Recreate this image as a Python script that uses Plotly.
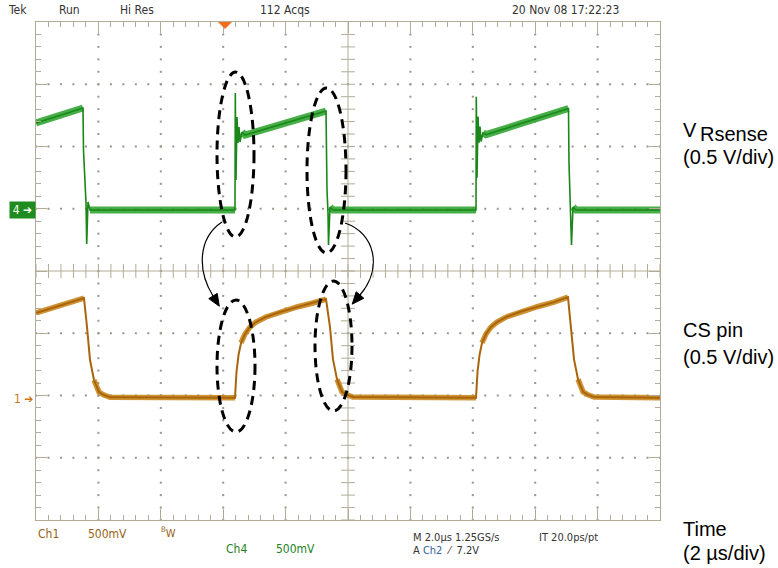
import numpy as np
import plotly.graph_objects as go

# ---------------- data ----------------
# Ch4 : V_Rsense in volts, 0.5 V/div, ground marker at +1 div ; time in microseconds (2 us/div)
rs_t = [0.000, 1.506, 1.522, 1.571, 1.603, 1.625, 1.667, 1.731, 6.378,
        6.388, 6.410, 6.442, 6.474, 6.506, 6.538, 6.603, 6.699, 9.295,
        9.311, 9.327, 9.359, 9.375, 9.423, 9.519, 14.103,
        14.112, 14.135, 14.167, 14.199, 14.231, 14.263, 14.327, 14.423, 17.067,
        17.083, 17.115, 17.147, 17.163, 17.212, 17.308, 20.000]
rs_v = [0.689, 0.809, 0.472, 0.127, 0.046, -0.283, 0.054, -0.010, -0.010,
        0.930, 0.231, 0.737, 0.528, 0.657, 0.536, 0.616, 0.592, 0.785,
        0.367, 0.151, -0.034, -0.291, 0.014, -0.010, -0.010,
        0.900, 0.250, 0.740, 0.530, 0.660, 0.540, 0.610, 0.595, 0.805,
        0.370, 0.150, -0.030, -0.290, 0.014, -0.010, -0.010]

# Ch1 : CS pin in volts, 0.5 V/div, ground marker at -2 div
cs_t = [0.000, 1.538, 1.635, 1.731, 1.859, 2.019, 2.179, 2.372, 6.378,
        6.426, 6.490, 6.571, 6.699, 6.859, 7.051, 7.372, 7.821, 8.365, 8.878, 9.295,
        9.423, 9.519, 9.647, 9.808, 9.968, 10.160, 14.103,
        14.151, 14.215, 14.295, 14.423, 14.583, 14.776, 15.096, 15.545, 16.090, 16.603, 17.051,
        17.147, 17.244, 17.372, 17.532, 17.692, 17.885, 20.000]
cs_v = [0.663, 0.783, 0.550, 0.285, 0.124, 0.028, 0.004, -0.015, -0.018,
        0.189, 0.325, 0.422, 0.494, 0.550, 0.590, 0.631, 0.671, 0.711, 0.743, 0.775,
        0.550, 0.290, 0.130, 0.030, 0.005, -0.012, -0.018,
        0.189, 0.325, 0.422, 0.494, 0.550, 0.590, 0.633, 0.675, 0.715, 0.750, 0.790,
        0.560, 0.290, 0.130, 0.030, 0.005, -0.012, -0.018]

volts_per_div = 0.5
rs_ground_div = 1.0
cs_ground_div = -2.0

# ---------------- helpers ----------------
W, H = 778, 568
L, R, T, B = 36, 660, 22, 520


def pxx(x):
    return (x - L) / (R - L)


def pxy(y):
    return (B - y) / (B - T)


def to_div(v, ground):
    return [ground + vi / volts_per_div for vi in v]


def band(t, y, thr=3.0):
    # keep only the slowly varying parts (for the noise band look)
    bx, by = [t[0]], [y[0]]
    for i in range(1, len(t)):
        dx = (t[i] - t[i - 1]) / 2.0
        dy = y[i] - y[i - 1]
        if dx <= 0 or abs(dy / dx) > thr:
            bx.append(None)
            by.append(None)
        bx.append(t[i])
        by.append(y[i])
    return bx, by


GRID = "rgb(178,172,150)"
DOT = "rgb(150,150,140)"
GREEN = "rgb(25,135,25)"
GREEN_B = "rgba(50,165,50,0.9)"
ORANGE = "rgb(170,100,10)"
ORANGE_B = "rgba(200,135,30,0.9)"
TXT = "#333333"
SCOPE_FONT = "Liberation Sans Narrow, Arial Narrow, DejaVu Sans Condensed, sans-serif"

fig = go.Figure()

# dotted graticule
dx_list, dy_list = [], []
for gx in np.arange(2, 20, 2):
    if abs(gx - 10) < 1e-6:
        continue
    for gy in np.arange(-4, 4.001, 0.2):
        dx_list.append(gx)
        dy_list.append(gy)
for gy in np.arange(-3, 3.001, 1):
    if abs(gy) < 1e-6:
        continue
    for gx in np.arange(0, 20.001, 0.4):
        dx_list.append(gx)
        dy_list.append(gy)
fig.add_trace(go.Scatter(x=dx_list, y=dy_list, mode="markers",
                         marker=dict(symbol="square", size=2, color=DOT),
                         hoverinfo="skip", showlegend=False))

# center crosshair ticks
fig.add_trace(go.Scatter(x=list(np.arange(0, 20.001, 0.4)), y=[0] * 51, mode="markers",
                         marker=dict(symbol="line-ns", size=10, line=dict(width=1, color=GRID)),
                         hoverinfo="skip", showlegend=False, cliponaxis=False))
fig.add_trace(go.Scatter(x=[10] * 41, y=list(np.arange(-4, 4.001, 0.2)), mode="markers",
                         marker=dict(symbol="line-ew", size=10, line=dict(width=1, color=GRID)),
                         hoverinfo="skip", showlegend=False, cliponaxis=False))

# traces
rs_y = to_div(rs_v, rs_ground_div)
cs_y = to_div(cs_v, cs_ground_div)

bx, by = band(cs_t, cs_y)
fig.add_trace(go.Scatter(x=bx, y=by, mode="lines", line=dict(color=ORANGE_B, width=5.5),
                         connectgaps=False, hoverinfo="skip", showlegend=False))
fig.add_trace(go.Scatter(x=cs_t, y=cs_y, mode="lines", line=dict(color=ORANGE, width=2),
                         name="CS pin", showlegend=False))

bx, by = band(rs_t, rs_y)
fig.add_trace(go.Scatter(x=bx, y=by, mode="lines", line=dict(color=GREEN_B, width=7),
                         connectgaps=False, hoverinfo="skip", showlegend=False))
fig.add_trace(go.Scatter(x=rs_t, y=rs_y, mode="lines", line=dict(color=GREEN, width=1.6),
                         name="V Rsense", showlegend=False))

shapes = []
# center lines
shapes.append(dict(type="line", xref="x", yref="y", x0=10, x1=10, y0=-4, y1=4,
                   line=dict(color=GRID, width=1), layer="below"))
shapes.append(dict(type="line", xref="x", yref="y", x0=0, x1=20, y0=0, y1=0,
                   line=dict(color=GRID, width=1), layer="below"))

# trigger marker (top)
shapes.append(dict(type="path", xref="paper", yref="paper",
                   path=f"M {pxx(218)},{pxy(22)} L {pxx(232)},{pxy(22)} L {pxx(225)},{pxy(29)} Z",
                   fillcolor="rgb(240,110,30)", line=dict(width=0)))

# dashed ellipses (pixel boxes)
ellipses = [(217, 72, 254, 237), (307, 88, 346, 253), (217, 300, 255, 432), (315, 281, 352, 411)]
for x0, y0, x1, y1 in ellipses:
    shapes.append(dict(type="circle", xref="paper", yref="paper",
                       x0=pxx(x0), x1=pxx(x1), y0=pxy(y1), y1=pxy(y0),
                       line=dict(color="black", width=3, dash="9px,6px")))

# curved arrows
arrows = [((222, 222), (198, 238), (197, 270), (213, 296)),
          ((345, 223), (375, 233), (383, 268), (360, 295))]
for p0, c1, c2, p3 in arrows:
    path = (f"M {pxx(p0[0])},{pxy(p0[1])} C {pxx(c1[0])},{pxy(c1[1])} "
            f"{pxx(c2[0])},{pxy(c2[1])} {pxx(p3[0])},{pxy(p3[1])}")
    shapes.append(dict(type="path", xref="paper", yref="paper", path=path,
                       line=dict(color="black", width=1.2)))
    d = np.array([p3[0] - c2[0], p3[1] - c2[1]], dtype=float)
    d /= np.linalg.norm(d)
    n = np.array([-d[1], d[0]])
    tip = np.array(p3) + 12 * d
    b1 = np.array(p3) + 5 * n
    b2 = np.array(p3) - 5 * n
    shapes.append(dict(type="path", xref="paper", yref="paper",
                       path=(f"M {pxx(tip[0])},{pxy(tip[1])} L {pxx(b1[0])},{pxy(b1[1])} "
                             f"L {pxx(b2[0])},{pxy(b2[1])} Z"),
                       fillcolor="black", line=dict(color="black", width=1)))

ann = []


def text(x, y, s, size=12, color=TXT, anchor="center", family=SCOPE_FONT):
    ann.append(dict(x=pxx(x), y=pxy(y), xref="paper", yref="paper", text=s, showarrow=False,
                    xanchor=anchor, yanchor="middle", font=dict(size=size, color=color, family=family)))


# header
text(17, 10, "Tek")
text(69, 10, "Run")
text(137, 10, "Hi Res")
text(285, 10, "112 Acqs")
text(565, 10, "20 Nov 08 17:22:23")

# footer
BROWN = "rgb(150,95,20)"
DGREEN = "rgb(30,130,30)"
text(36, 534, "Ch1", color=BROWN, anchor="left")
text(86, 534, "500mV", color=BROWN, anchor="left")
text(159, 532, "<sup>B</sup>W", size=11, color=BROWN, anchor="left")
text(224, 549, "Ch4", color=DGREEN, anchor="left")
text(274, 549, "500mV", color=DGREEN, anchor="left")
text(411, 537, "M 2.0µs 1.25GS/s", size=11, anchor="left")
text(537, 537, "IT 20.0ps/pt", size=11, anchor="left")
text(411, 550, "A <span style='color:#2f5f9f'>Ch2</span>  ⁄  7.2V", size=11, anchor="left")

# channel ground markers
ann.append(dict(x=pxx(36), y=pxy(210), xref="paper", yref="paper", text="4 ➔", showarrow=False,
                xanchor="right", yanchor="middle", bgcolor="rgb(30,140,30)", width=23, height=14,
                font=dict(size=12, color="white", family=SCOPE_FONT)))
text(35, 399, "1 ➔", size=12, color="rgb(200,120,20)", anchor="right")

# right-hand labels
RF = "Liberation Sans, Arial, Helvetica, sans-serif"
text(681, 130, "V", size=20, color="black", anchor="left", family=RF)
text(698, 134, "Rsense", size=20, color="black", anchor="left", family=RF)
text(681, 157, "(0.5 V/div)", size=20, color="black", anchor="left", family=RF)
text(681, 330, "CS pin", size=20, color="black", anchor="left", family=RF)
text(681, 357, "(0.5 V/div)", size=20, color="black", anchor="left", family=RF)
text(681, 529, "Time", size=20, color="black", anchor="left", family=RF)
text(681, 553, "(2 µs/div)", size=20, color="black", anchor="left", family=RF)

axis_common = dict(showgrid=False, zeroline=False, showline=True, linecolor=GRID, linewidth=1,
                   mirror="ticks", ticks="inside", tickcolor=GRID, ticklen=11, tickwidth=1,
                   showticklabels=False, fixedrange=True)

fig.update_layout(
    width=W, height=H,
    margin=dict(l=L, r=W - R, t=T, b=H - B, pad=0),
    paper_bgcolor="white", plot_bgcolor="white",
    xaxis=dict(range=[0, 20], tick0=0, dtick=2,
               minor=dict(ticks="inside", dtick=0.4, ticklen=5, tickcolor=GRID, tickwidth=1),
               **axis_common),
    yaxis=dict(range=[-4, 4], tick0=0, dtick=1,
               minor=dict(ticks="inside", dtick=0.2, ticklen=5, tickcolor=GRID, tickwidth=1),
               **axis_common),
    shapes=shapes, annotations=ann, showlegend=False,
)

fig.write_html("out.html", config={"displayModeBar": False},
               post_script="document.body.style.margin='0';document.body.style.overflow='hidden';")
